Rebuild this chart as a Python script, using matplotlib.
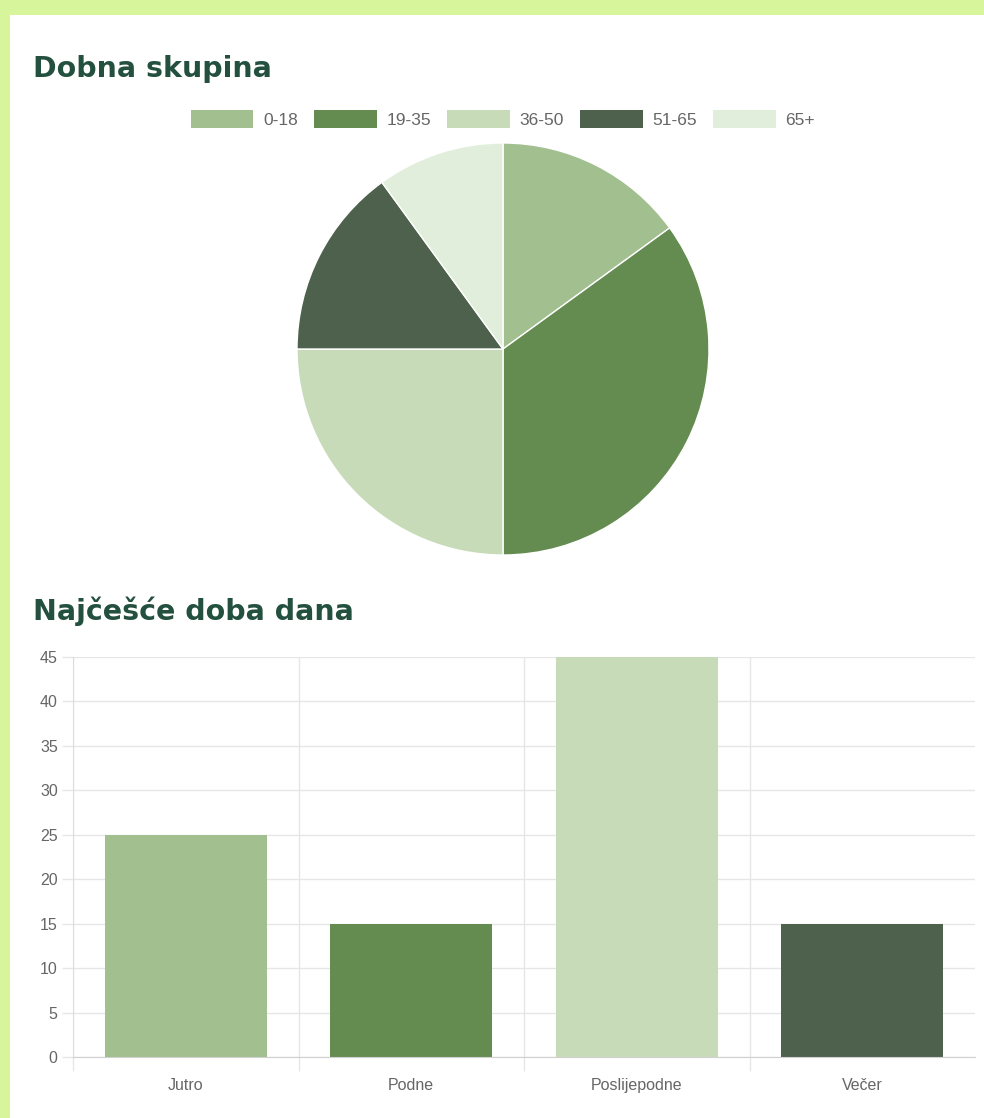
import matplotlib
matplotlib.use("Agg")
import matplotlib.pyplot as plt
from matplotlib.patches import Patch, Rectangle

# data
age_groups = ["0-18", "19-35", "36-50", "51-65", "65+"]
age_share = [15, 35, 25, 15, 10]
day_parts = ["Jutro", "Podne", "Poslijepodne", "Večer"]
day_counts = [25, 15, 45, 15]
colors = ["#a1bf8f", "#648b50", "#c7dbb9", "#4e614d", "#e0eedb"]

W, H = 984, 1118
TITLE_C = "#24503f"
GRID_C = "#e6e6e6"
TXT_C = "#666666"

plt.rcParams["font.family"] = ["Liberation Sans", "DejaVu Sans"]

fig = plt.figure(figsize=(W / 100, H / 100), dpi=100)
fig.patch.set_facecolor("#d7f59a")
fig.patches.append(Rectangle((10 / W, 0), 1, (H - 15) / H, transform=fig.transFigure,
                             facecolor="white", edgecolor="none", zorder=-5))

title_font = dict(family="DejaVu Sans", weight="bold", size=20.5, color=TITLE_C)
fig.text(33 / W, 1 - 77 / H, "Dobna skupina", ha="left", va="baseline", **title_font)
fig.text(33 / W, 1 - 620 / H, "Najčešće doba dana", ha="left", va="baseline", **title_font)

# pie
cx, cy, r = 503, 349, 206
ax_pie = fig.add_axes([(cx - r) / W, (H - cy - r) / H, 2 * r / W, 2 * r / H])
ax_pie.pie(age_share, colors=colors, startangle=90, counterclock=False, radius=1,
           wedgeprops=dict(edgecolor="white", linewidth=1))
ax_pie.set_xlim(-1, 1)
ax_pie.set_ylim(-1, 1)
ax_pie.set_aspect("equal")
ax_pie.axis("off")

handles = [Patch(facecolor=c, edgecolor="none") for c in colors]
leg = fig.legend(handles, age_groups, loc="center", bbox_to_anchor=(503 / W, 1 - 119 / H),
                 ncol=5, frameon=False, fontsize=12.5, handlelength=3.6, handleheight=1.2,
                 handletextpad=0.55, columnspacing=0.95)
for t in leg.get_texts():
    t.set_color(TXT_C)

# bars
x0, x1, ytop, ybot = 73, 975, 657, 1057
ax = fig.add_axes([x0 / W, (H - ybot) / H, (x1 - x0) / W, (ybot - ytop) / H])
ax.bar(range(len(day_parts)), day_counts, width=0.72, color=colors[:4], zorder=2)
ax.set_xlim(-0.5, len(day_parts) - 0.5)
ax.set_ylim(0, 45)
ax.set_yticks(range(0, 46, 5))
ax.set_xticks(range(len(day_parts)))
ax.set_xticklabels(day_parts)
ax.set_xticks([i - 0.5 for i in range(len(day_parts))], minor=True)
ax.tick_params(axis="x", which="major", length=0, pad=15, labelsize=11.5, labelcolor=TXT_C)
ax.tick_params(axis="x", which="minor", length=10, color=GRID_C, width=1)
ax.tick_params(axis="y", length=8, color=GRID_C, width=1, pad=3, labelsize=11.5, labelcolor=TXT_C)
ax.grid(axis="y", color=GRID_C, linewidth=1, zorder=0)
ax.grid(axis="x", which="minor", color=GRID_C, linewidth=1, zorder=0)
for s in ["top", "right"]:
    ax.spines[s].set_visible(False)
ax.spines["left"].set_color("#dddddd")
ax.spines["bottom"].set_color("#d0d0d0")
ax.set_axisbelow(True)

fig.savefig("out.png", dpi=100, facecolor=fig.get_facecolor())
